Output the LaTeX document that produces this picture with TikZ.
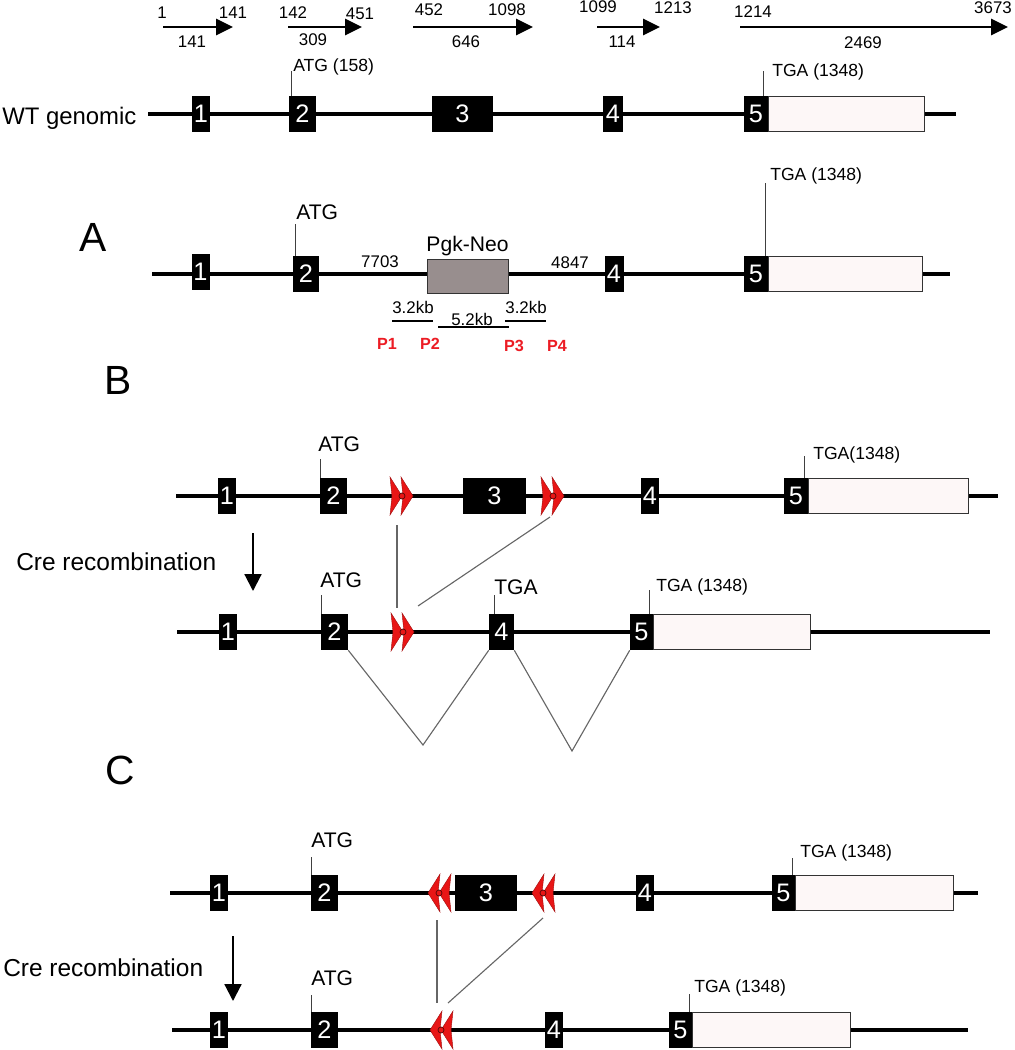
\documentclass[tikz,border=0pt]{standalone}
\usepackage{fontspec}
\setmainfont{Liberation Sans}
\usetikzlibrary{arrows.meta}

\definecolor{loxred}{RGB}{232,22,22}
\definecolor{neogray}{RGB}{152,142,142}
\definecolor{utrpink}{RGB}{253,247,247}
\definecolor{primerred}{RGB}{236,28,36}

\tikzset{
  gene/.style={line width=2.2pt},
  exon/.style={fill=black, text=white, inner sep=0pt, minimum height=0.9cm, font=\fontsize{18}{18}\selectfont},
  exw/.style={minimum width=#1*0.025cm},
  utr/.style={draw=black!80, line width=0.6pt, fill=utrpink, anchor=west, inner sep=0pt, minimum height=0.88cm},
  neo/.style={draw=black!80, line width=0.6pt, fill=neogray, inner sep=0pt, minimum height=0.85cm},
  tick/.style={black!75, line width=0.7pt},
  splice/.style={black!60, line width=0.8pt},
  bar/.style={line width=2pt},
  num/.style={inner sep=0pt, font=\fontsize{12}{14}\selectfont},
  lab/.style={inner sep=0pt, anchor=base west, font=\fontsize{12.5}{14}\selectfont},
  biglab/.style={inner sep=0pt, anchor=base west, font=\fontsize{15}{17}\selectfont},
  rowlab/.style={inner sep=0pt, anchor=base west, font=\fontsize{17.4}{19}\selectfont},
  panel/.style={inner sep=0pt, font=\fontsize{29}{31}\selectfont},
  primer/.style={inner sep=0pt, anchor=base, text=primerred, font=\bfseries\fontsize{11.5}{13}\selectfont},
  seg/.style={line width=1.9pt, -{Triangle[length=0.42cm, width=0.4cm]}},
  cre/.style={line width=1.5pt, -{Triangle[length=0.42cm, width=0.42cm]}},
  loxp/.pic={
    \filldraw[fill=loxred, draw=loxred!70!black, line width=0.3pt] (-12,-19) -- (0,0) -- (-12,19) -- (-10,0) -- cycle;
    \filldraw[fill=loxred, draw=loxred!70!black, line width=0.3pt] (-1,-19) -- (11,0) -- (-1,19) -- (1,0) -- cycle;
    \filldraw[fill=loxred, draw=loxred!35!black, line width=0.5pt] (0,0) circle [radius=0.075cm];
  }
}

\begin{document}
\begin{tikzpicture}[x=0.025cm, y=-0.025cm]
	\useasboundingbox (0,0) rectangle (1014,1050);

	% exon lengths
	\coordinate (s1) at (163,27); \coordinate (e1) at (233,27);
	\draw[seg] (s1) -- (e1);
	\node[num] (s1a) at (162,13) {1};
	\node[num] (s1b) at (233,13) {141};
	\node[num] (s1c) at (192,42) {141};
	\coordinate (s2) at (288,27); \coordinate (e2) at (362,27);
	\draw[seg] (s2) -- (e2);
	\node[num] (s2a) at (293,13) {142};
	\node[num] (s2b) at (360,14) {451};
	\node[num] (s2c) at (313,40) {309};
	\coordinate (s3) at (413,27); \coordinate (e3) at (533,27);
	\draw[seg] (s3) -- (e3);
	\node[num] (s3a) at (429,10) {452};
	\node[num] (s3b) at (507,10) {1098};
	\node[num] (s3c) at (466,42) {646};
	\coordinate (s4) at (597,27); \coordinate (e4) at (660,27);
	\draw[seg] (s4) -- (e4);
	\node[num] (s4a) at (598,7) {1099};
	\node[num] (s4b) at (673,8) {1213};
	\node[num] (s4c) at (622,42) {114};
	\coordinate (s5) at (740,27); \coordinate (e5) at (1008,27);
	\draw[seg] (s5) -- (e5);
	\node[num] (s5a) at (753,12) {1214};
	\node[num] (s5b) at (993,8) {3673};
	\node[num] (s5c) at (863,43) {2469};

	% WT genomic
	\node[rowlab, font=\fontsize{17}{19}\selectfont] (wtname) at (2,125) {WT genomic};
	\coordinate (wtL) at (148,114); \coordinate (wtR) at (956,114);
	\draw[gene] (wtL) -- (wtR);
	\node[exon, exw=18] (wt1) at (201,114) {1};
	\node[exon, exw=27] (wt2) at (302.5,114) {2};
	\node[exon, exw=61] (wt3) at (462.5,114) {3};
	\node[exon, exw=20] (wt4) at (613,114) {4};
	\node[exon, exw=24] (wt5) at (756,114) {5};
	\node[utr, exw=156] (wtutr) at (wt5.east) {};
	\node[lab] (wtatg) at (293,72) {ATG (158)};
	\draw[tick] ([shift={(3,0)}]wt2.north west) -- ++(0,-25);
	\node[lab] (wttga) at (772,77) {TGA (1348)};
	\draw[tick] ([shift={(-5,0)}]wt5.north east) -- ++(0,-25);

	% A: targeting
	\node[panel] (pA) at (93,237) {A};
	\coordinate (aL) at (152,274); \coordinate (aR) at (950,274);
	\draw[gene] (aL) -- (aR);
	\node[exon, exw=18] (a1) at (200.5,272) {1};
	\node[exon, exw=26] (a2) at (306,274) {2};
	\node[neo, exw=81] (neo) at (467.5,276) {};
	\node[exon, exw=19] (a4) at (614,274) {4};
	\node[exon, exw=24] (a5) at (756,274) {5};
	\node[utr, exw=154] (autr) at (a5.east) {};
	\node[biglab] (aatg) at (296,220) {ATG};
	\draw[tick] ([shift={(3,0)}]a2.north west) -- ++(0,-32);
	\node[lab] (atga) at (770,181) {TGA (1348)};
	\draw[tick] ([shift={(-3,0)}]a5.north east) -- ++(0,-73);
	\node[biglab, anchor=base] (neoname) at (467.5,251) {Pgk-Neo};
	\node[num] (arm5) at (380,262) {7703};
	\node[num] (arm3) at (570,263) {4847};
	\coordinate (k1s) at (392,321); \coordinate (k1e) at (433,321);
	\coordinate (k2s) at (438,327); \coordinate (k2e) at (509,327);
	\coordinate (k3s) at (505,321); \coordinate (k3e) at (546,321);
	\draw[bar] (k1s) -- (k1e);
	\draw[bar] (k2s) -- (k2e);
	\draw[bar] (k3s) -- (k3e);
	\node[num, anchor=base] (kb1) at (413,313) {3.2kb};
	\node[num, anchor=base] (kb2) at (472,325) {5.2kb};
	\node[num, anchor=base] (kb3) at (526,313) {3.2kb};
	\node[primer] (p1) at (387,349) {P1};
	\node[primer] (p2) at (430,349) {P2};
	\node[primer] (p3) at (514,351) {P3};
	\node[primer] (p4) at (557,351) {P4};

	% B: floxed exon 3
	\node[panel] (pB) at (118,380) {B};
	\coordinate (bL) at (176,496); \coordinate (bR) at (998,496);
	\draw[gene] (bL) -- (bR);
	\node[exon, exw=18] (ba1) at (227,496) {1};
	\node[exon, exw=27] (ba2) at (333.5,496) {2};
	\pic at (402,496) {loxp};
	\node[exon, exw=63] (ba3) at (494.5,496) {3};
	\pic at (553,496) {loxp};
	\node[exon, exw=18] (ba4) at (650,496) {4};
	\node[exon, exw=24] (ba5) at (796,496) {5};
	\node[utr, exw=160] (bautr) at (ba5.east) {};
	\node[biglab] (baatg) at (318,451) {ATG};
	\draw[tick] ([shift={(1,0)}]ba2.north west) -- ++(0,-19);
	\node[lab] (batga) at (813,459) {TGA(1348)};
	\draw[tick] ([shift={(-4,0)}]ba5.north east) -- ++(0,-22);

	\node[rowlab] (creb) at (16,570) {Cre recombination};
	\coordinate (cb1) at (253,533); \coordinate (cb2) at (253,591);
	\draw[cre] (cb1) -- (cb2);
	\coordinate (lb1) at (397,525); \coordinate (lb2) at (397,608);
	\coordinate (lb3) at (550,517); \coordinate (lb4) at (418,606);
	\draw[splice] (lb1) -- (lb2);
	\draw[splice] (lb3) -- (lb4);

	\coordinate (bbL) at (177,632); \coordinate (bbR) at (990,632);
	\draw[gene] (bbL) -- (bbR);
	\node[exon, exw=18] (bb1) at (228,632) {1};
	\node[exon, exw=27] (bb2) at (334.5,632) {2};
	\pic at (403,632) {loxp};
	\node[exon, exw=25] (bb4) at (501.5,632) {4};
	\node[exon, exw=23] (bb5) at (641.5,632) {5};
	\node[utr, exw=157] (bbutr) at (bb5.east) {};
	\node[biglab] (bbatg) at (320,587) {ATG};
	\draw[tick] ([shift={(1,0)}]bb2.north west) -- ++(0,-19);
	\node[biglab] (bbstop) at (494,594) {TGA};
	\draw[tick] ([shift={(6,0)}]bb4.north west) -- ++(0,-19);
	\node[lab] (bbtga) at (656,591) {TGA (1348)};
	\draw[tick] ([shift={(-4,0)}]bb5.north east) -- ++(0,-24);
	\coordinate (sp1) at (423,745); \coordinate (sp2) at (572,751);
	\draw[splice] (bb2.south east) -- (sp1) -- (bb4.south west);
	\draw[splice] (bb4.south east) -- (sp2) -- (bb5.south west);

	% C: inverted loxP
	\node[panel] (pC) at (120,770) {C};
	\coordinate (cL) at (170,893); \coordinate (cR) at (978,893);
	\draw[gene] (cL) -- (cR);
	\node[exon, exw=18] (ca1) at (219,893) {1};
	\node[exon, exw=27] (ca2) at (324.5,893) {2};
	\pic[xscale=-1] at (439,893) {loxp};
	\node[exon, exw=62] (ca3) at (486,893) {3};
	\pic[xscale=-1] at (543,893) {loxp};
	\node[exon, exw=18] (ca4) at (645,893) {4};
	\node[exon, exw=23] (ca5) at (783.5,893) {5};
	\node[utr, exw=158] (cautr) at (ca5.east) {};
	\node[biglab] (caatg) at (311,847) {ATG};
	\draw[tick] ([shift={(1,0)}]ca2.north west) -- ++(0,-18);
	\node[lab] (catga) at (800,857) {TGA (1348)};
	\draw[tick] ([shift={(-3,0)}]ca5.north east) -- ++(0,-17);

	\node[rowlab] (crec) at (3,976) {Cre recombination};
	\coordinate (cc1) at (233,936); \coordinate (cc2) at (233,1001);
	\draw[cre] (cc1) -- (cc2);
	\coordinate (lc1) at (437,920); \coordinate (lc2) at (437,1003);
	\coordinate (lc3) at (543,918); \coordinate (lc4) at (448,1003);
	\draw[splice] (lc1) -- (lc2);
	\draw[splice] (lc3) -- (lc4);

	\coordinate (ccL) at (172,1030); \coordinate (ccR) at (968,1030);
	\draw[gene] (ccL) -- (ccR);
	\node[exon, exw=18] (cb1) at (219,1030) {1};
	\node[exon, exw=27] (cb2) at (324.5,1030) {2};
	\pic[xscale=-1] at (441,1030) {loxp};
	\node[exon, exw=18] (cb4) at (554,1030) {4};
	\node[exon, exw=23] (cb5) at (680.5,1030) {5};
	\node[utr, exw=158] (cbutr) at (cb5.east) {};
	\node[biglab] (cbatg) at (311,985) {ATG};
	\draw[tick] ([shift={(1,0)}]cb2.north west) -- ++(0,-17);
	\node[lab] (cbtga) at (694,992) {TGA (1348)};
	\draw[tick] ([shift={(-3,0)}]cb5.north east) -- ++(0,-18);
\end{tikzpicture}
\end{document}
